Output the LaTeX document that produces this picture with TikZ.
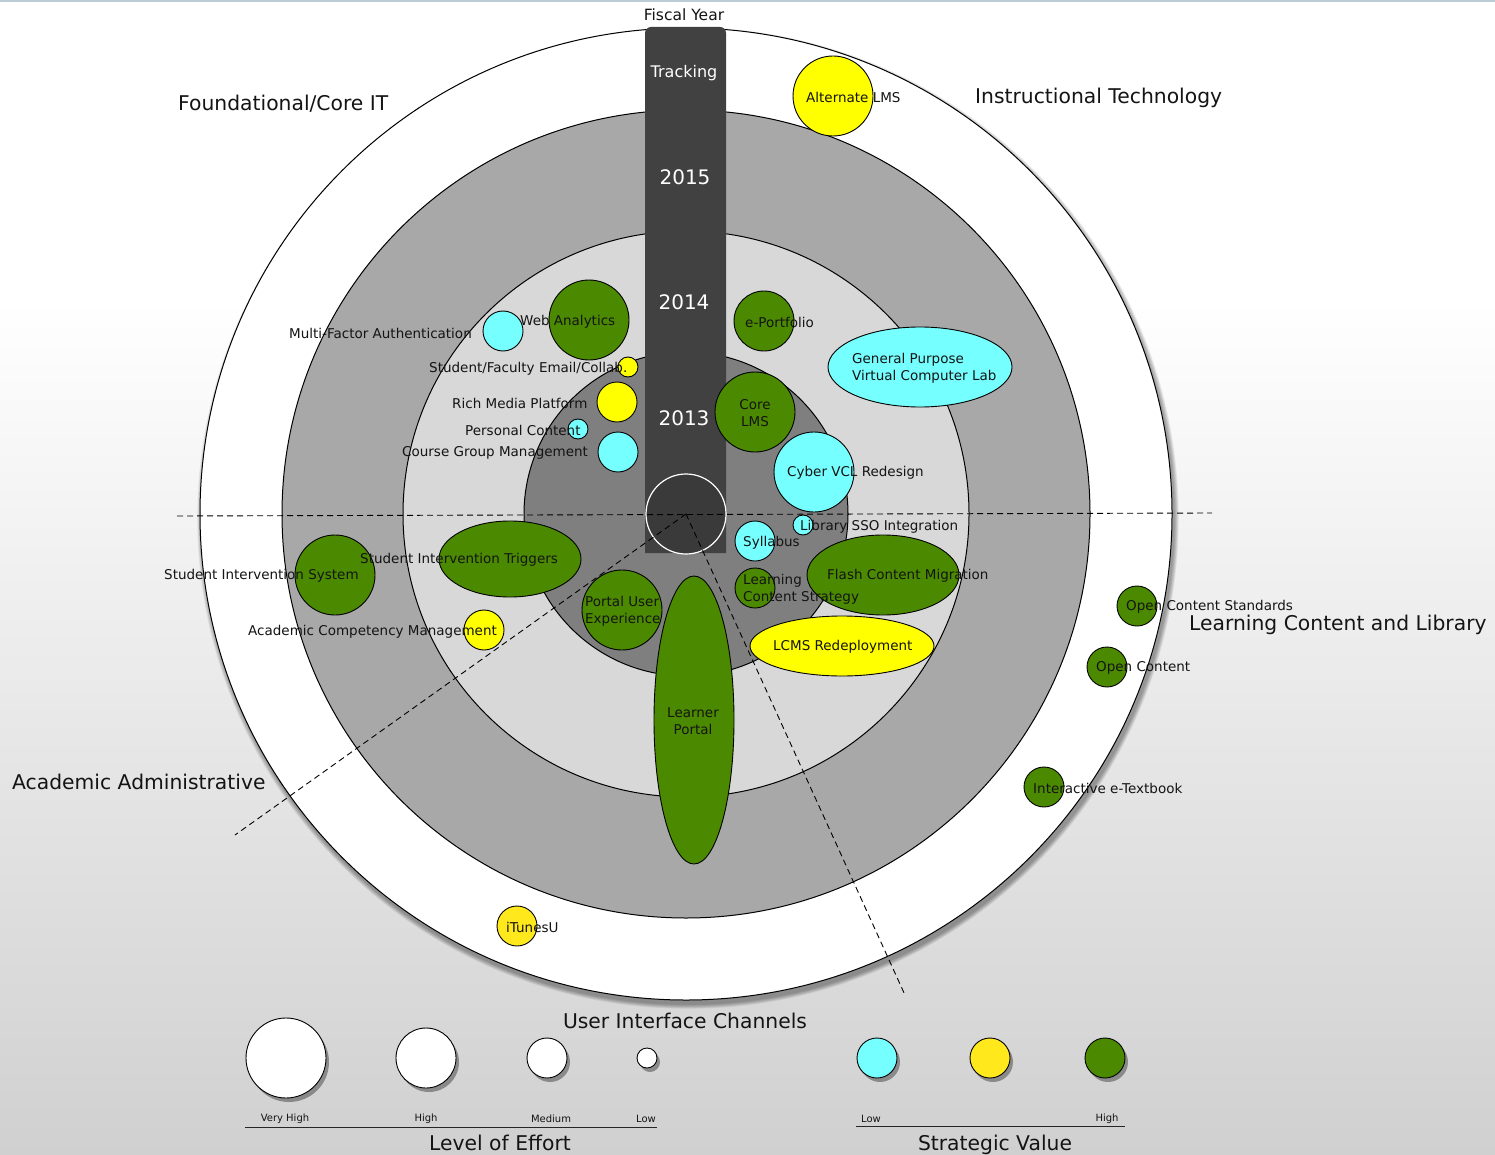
\documentclass[tikz,border=0pt]{standalone}
\usepackage{fontspec}
\setmainfont{DejaVu Sans}
\usetikzlibrary{shapes.geometric,shadows}
\definecolor{cyanb}{RGB}{117,255,255}
\definecolor{yelb}{RGB}{255,255,0}
\definecolor{yell}{RGB}{255,232,28}
\definecolor{grnb}{RGB}{75,138,0}
\definecolor{ringA}{RGB}{168,168,168}
\definecolor{ringB}{RGB}{216,216,216}
\definecolor{ringC}{RGB}{127,127,127}
\definecolor{barc}{RGB}{65,65,65}
\definecolor{ctrc}{RGB}{58,58,58}
\definecolor{bgbot}{RGB}{208,208,208}
\definecolor{topline}{RGB}{188,204,214}
\definecolor{txt}{RGB}{20,20,20}
\tikzset{
  bub/.style={circle, draw=black, line width=0.9pt, inner sep=0pt, minimum size=#1},
  ell/.style 2 args={ellipse, draw=black, line width=0.9pt, inner sep=0pt, minimum width=#1, minimum height=#2},
  lab/.style={font=\fontsize{13.5}{17}\selectfont, text=txt, inner sep=0pt},
  labw/.style={lab, anchor=west},
  sec/.style={font=\fontsize{20.3}{24}\selectfont, text=txt, inner sep=0pt},
  yr/.style={font=\fontsize{20}{24}\selectfont, text=white, inner sep=0pt},
  small/.style={font=\fontsize{10}{12}\selectfont, text=txt, inner sep=0pt},
  dsh/.style={dashed, dash pattern=on 6pt off 4pt, line width=0.9pt, black},
  legshadow/.style={drop shadow={shadow xshift=3pt, shadow yshift=-4pt, opacity=0.35, fill=black}},
}
\begin{document}
\begin{tikzpicture}[x=1pt,y=-1pt]
\useasboundingbox (0,0) rectangle (1495,1155);
% background
\fill[white] (0,0) rectangle (1495,300);
\shade[top color=white, bottom color=bgbot] (0,300) rectangle (1495,1155);
\fill[topline] (0,0) rectangle (1495,2.5);
% soft shadow of outer circle
\foreach \i in {1,...,8} {
  \fill[black, opacity=0.05] (688,518) circle ({486+\i*0.6});
}
% rings
\node[circle, fill=white, draw=black, line width=1pt, minimum size=972pt, inner sep=0pt] (r1) at (686,514) {};
\node[circle, fill=ringA, draw=black, line width=1pt, minimum size=808pt, inner sep=0pt] (r2) at (686,514) {};
\node[circle, fill=ringB, draw=black, line width=1pt, minimum size=566pt, inner sep=0pt] (r3) at (686,514) {};
\node[circle, fill=ringC, draw=black, line width=1pt, minimum size=324pt, inner sep=0pt] (r4) at (686,514) {};
% tracking bar
\fill[barc] (645,553) [rounded corners=6pt] -- (645,27) -- (726,27) [sharp corners] -- (726,553) -- cycle;
\node[circle, fill=ctrc, draw=white, line width=1.2pt, minimum size=80pt, inner sep=0pt] (ctr) at (686,514) {};
\node[font=\fontsize{15.5}{18}\selectfont, text=txt, inner sep=0pt] (fy) at (684,15) {Fiscal Year};
\node[font=\fontsize{16}{19}\selectfont, text=white, inner sep=0pt] (trk) at (684,73) {Tracking};
\node[yr] (y15) at (685,177) {2015};
\node[yr] (y14) at (684,302) {2014};
\node[yr] (y13) at (684,418) {2013};
% dashed axes
\coordinate (hl) at (177,516);
\coordinate (hr) at (1212,513);
\coordinate (dl) at (235,835);
\coordinate (dr) at (905,995);
\draw[dsh] (hl) -- (hr);
\draw[dsh] (ctr.center) -- (dl);
\draw[dsh] (ctr.center) -- (dr);
% bubbles
\node[bub=80pt, fill=yelb] (altlms) at (833,96) {};
\node[bub=40pt, fill=cyanb] (mfa) at (503,331) {};
\node[bub=80pt, fill=grnb] (web) at (589,320) {};
\node[bub=60pt, fill=grnb] (eport) at (764,321) {};
\node[bub=20pt, fill=yelb] (email) at (628,367) {};
\node[bub=40pt, fill=yelb] (rich) at (617,402) {};
\node[bub=20pt, fill=cyanb] (pers) at (578,429) {};
\node[bub=40pt, fill=cyanb] (cgm) at (618,452) {};
\node[ell={184pt}{80pt}, fill=cyanb] (gpvcl) at (920,367) {};
\node[bub=80pt, fill=grnb] (core) at (755,412) {};
\node[bub=80pt, fill=cyanb] (cyber) at (814,472) {};
\node[bub=20pt, fill=cyanb] (sso) at (803,525) {};
\node[bub=40pt, fill=cyanb] (syl) at (755,541) {};
\node[bub=40pt, fill=grnb] (lcs) at (755,588) {};
\node[ell={152pt}{80pt}, fill=grnb] (flash) at (883,575) {};
\node[ell={184pt}{60pt}, fill=yelb] (lcms) at (842,646) {};
\node[bub=80pt, fill=grnb] (sis) at (335,575) {};
\node[ell={142pt}{76pt}, fill=grnb] (sit) at (510,559) {};
\node[bub=80pt, fill=grnb] (pux) at (622,610) {};
\node[bub=40pt, fill=yelb] (acm) at (484,630) {};
\node[ell={80pt}{288pt}, fill=grnb] (lp) at (694,720) {};
\node[bub=40pt, fill=grnb] (ocs) at (1137,606) {};
\node[bub=40pt, fill=grnb] (oc) at (1107,667) {};
\node[bub=40pt, fill=grnb] (iet) at (1044,787) {};
\node[bub=40pt, fill=yell] (itu) at (517,926) {};
% bubble labels
\node[labw] (laltlms) at (806,97) {Alternate LMS};
\node[labw] (lmfa) at (289,333) {Multi-Factor Authentication};
\node[labw] (lweb) at (520,322) {Web Analytics};
\node[labw] (leport) at (745,322) {e-Portfolio};
\node[labw] (lemail) at (429,369) {Student/Faculty Email/Collab.};
\node[labw] (lrich) at (452,403) {Rich Media Platform};
\node[labw] (lpers) at (465,430) {Personal Content};
\node[labw] (lcgm) at (402,453) {Course Group Management};
\node[labw, align=left] (lgpvcl) at (852,368.5) {General Purpose\\Virtual Computer Lab};
\node[lab, align=center] (lcore) at (755,413.5) {Core\\LMS};
\node[labw] (lcyber) at (787,473) {Cyber VCL Redesign};
\node[labw] (lsso) at (800,527) {Library SSO Integration};
\node[labw] (lsyl) at (743,543) {Syllabus};
\node[labw, align=left] (llcs) at (743,589.5) {Learning\\Content Strategy};
\node[labw] (lflash) at (827,576) {Flash Content Migration};
\node[labw] (llcms) at (773,647) {LCMS Redeployment};
\node[labw] (lsis) at (164,576) {Student Intervention System};
\node[labw] (lsit) at (360,560) {Student Intervention Triggers};
\node[labw, align=left] (lpux) at (585,611.5) {Portal User\\Experience};
\node[labw] (lacm) at (248,632) {Academic Competency Management};
\node[lab, align=center] (llp) at (693,721.5) {Learner\\Portal};
\node[labw] (locs) at (1126,607) {Open Content Standards};
\node[labw] (loc) at (1096,668) {Open Content};
\node[labw] (liet) at (1033,788) {Interactive e-Textbook};
\node[labw] (litu) at (506,927) {iTunesU};
% section labels
\node[sec, anchor=west] (sfound) at (178,104) {Foundational/Core IT};
\node[sec, anchor=west] (sinst) at (975,98) {Instructional Technology};
\node[sec, anchor=west] (slcl) at (1189,625) {Learning Content and Library};
\node[sec, anchor=west] (sacad) at (12,782) {Academic Administrative};
\node[sec] (suic) at (685,1021) {User Interface Channels};
% legend: level of effort
\node[bub=80pt, fill=white, legshadow] (e1) at (286,1058) {};
\node[bub=60pt, fill=white, legshadow] (e2) at (426,1058) {};
\node[bub=40pt, fill=white, legshadow] (e3) at (547,1058) {};
\node[bub=20pt, fill=white, legshadow] (e4) at (647,1058) {};
\node[small] (le1) at (285,1119) {Very High};
\node[small] (le2) at (426,1119) {High};
\node[small] (le3) at (551,1119) {Medium};
\node[small] (le4) at (646,1119) {Low};
\coordinate (ela) at (245,1127);
\coordinate (elb) at (657,1127);
\draw[line width=0.9pt, black!85] (ela) -- (elb);
\node[sec] (loe) at (500,1143) {Level of Effort};
% legend: strategic value
\node[bub=40pt, fill=cyanb, legshadow] (s1) at (877,1058) {};
\node[bub=40pt, fill=yell, legshadow] (s2) at (990,1058) {};
\node[bub=40pt, fill=grnb, legshadow] (s3) at (1105,1058) {};
\node[small] (ls1) at (871,1119) {Low};
\node[small] (ls3) at (1107,1119) {High};
\coordinate (sva) at (856,1126);
\coordinate (svb) at (1125,1126);
\draw[line width=0.9pt, black!85] (sva) -- (svb);
\node[sec] (sv) at (995,1145) {Strategic Value};
\end{tikzpicture}
\end{document}
